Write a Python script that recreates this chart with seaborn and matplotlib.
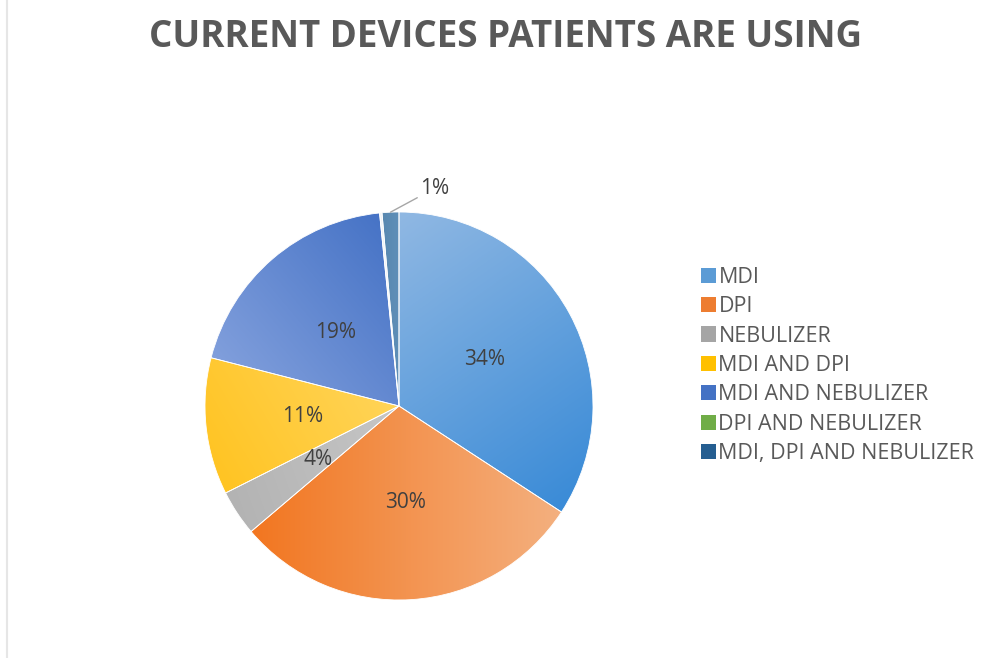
import numpy as np
import matplotlib
matplotlib.use("Agg")
import matplotlib.pyplot as plt
import matplotlib.colors as mcolors
from matplotlib.patches import Patch
from matplotlib.lines import Line2D
import seaborn as sns

categories = [
    "MDI",
    "DPI",
    "NEBULIZER",
    "MDI AND DPI",
    "MDI AND NEBULIZER",
    "DPI AND NEBULIZER",
    "MDI, DPI AND NEBULIZER",
]
shares = [34.2, 29.6, 3.8, 11.4, 19.4, 0.2, 1.4]

legend_colors = ["#5b9bd5", "#ed7d31", "#a5a5a5", "#ffc000", "#4472c4", "#70ad47", "#255e91"]
# gradient fills: (start colour, end colour, direction in degrees)
fills = [
    ("#90b8e3", "#3a8bd7", -55),
    ("#f27620", "#f4b07f", 0),
    ("#b3b3b3", "#c6c6c6", 20),
    ("#ffc423", "#ffd458", 30),
    ("#819fdc", "#4673c6", 40),
    ("#eef3f8", "#eef3f8", 0),
    ("#5888b0", "#5f8fb8", 0),
]

sns.set_theme(style="white")
plt.rcParams["font.family"] = ["Open Sans", "DejaVu Sans"]

fig = plt.figure(figsize=(9.94, 6.58), dpi=100)
W, H = 994, 658

cx, cy, r = 399, 406, 194
ax = fig.add_axes([(cx - r) / W, (H - cy - r) / H, 2 * r / W, 2 * r / H])


def pct_label(p):
    return "%.0f%%" % p if p >= 2 else ""


wedges, texts, autotexts = ax.pie(
    shares,
    startangle=90,
    counterclock=False,
    radius=1,
    autopct=pct_label,
    pctdistance=0.5,
    wedgeprops=dict(linewidth=0.6, edgecolor="white"),
    textprops=dict(color="#404040", fontsize=15),
)

xx, yy = np.meshgrid(np.linspace(-1, 1, 400), np.linspace(1, -1, 400))
for w, (c0, c1, ang) in zip(wedges, fills):
    w.set_facecolor("none")
    a = np.deg2rad(ang)
    d = np.array([np.cos(a), np.sin(a)])
    th = np.deg2rad(np.linspace(w.theta1, w.theta2, 60))
    pts = np.vstack([[0, 0], np.c_[np.cos(th), np.sin(th)]])
    proj = pts @ d
    t = (xx * d[0] + yy * d[1] - proj.min()) / max(proj.max() - proj.min(), 1e-6)
    t = np.clip(t, 0, 1)
    cmap = mcolors.LinearSegmentedColormap.from_list("g", [c0, c1])
    im = ax.imshow(t, cmap=cmap, vmin=0, vmax=1, extent=[-1, 1, -1, 1],
                   zorder=0.5, interpolation="bilinear")
    im.set_clip_path(w)

# small slice label with leader line
w_small = wedges[-1]
mid = np.deg2rad((w_small.theta1 + w_small.theta2) / 2)
ax.annotate(
    "%.0f%%" % shares[-1],
    xy=(np.cos(mid), np.sin(mid)),
    xytext=(np.cos(mid) + 0.05, np.sin(mid) + 0.07),
    color="#404040", fontsize=15,
    arrowprops=dict(arrowstyle="-", color="#a6a6a6", lw=1, shrinkA=0, shrinkB=0),
    ha="left", va="bottom",
)
ax.texts[-1].set_position((np.cos(mid) + 0.155, np.sin(mid) + 0.07))

ax.set_xlim(-1, 1)
ax.set_ylim(-1, 1)
ax.set_aspect("equal")
ax.axis("off")

fig.text(506 / W, 1 - 37 / H, "CURRENT DEVICES PATIENTS ARE USING",
         ha="center", va="center", fontsize=26.5, fontweight="bold", color="#595959")

handles = [Patch(facecolor=c, edgecolor="none") for c in legend_colors]
fig.legend(
    handles, categories,
    loc="upper left",
    bbox_to_anchor=(690 / W, 1 - 256 / H),
    frameon=False,
    fontsize=15.5,
    handlelength=0.7,
    handleheight=0.7,
    handletextpad=0.12,
    labelspacing=0.39,
    borderpad=0,
    labelcolor="#595959",
)

fig.add_artist(Line2D([7 / W, 7 / W], [0, 1], color="#e6e6e6", lw=1.5))

fig.savefig("out.png", dpi=100)
